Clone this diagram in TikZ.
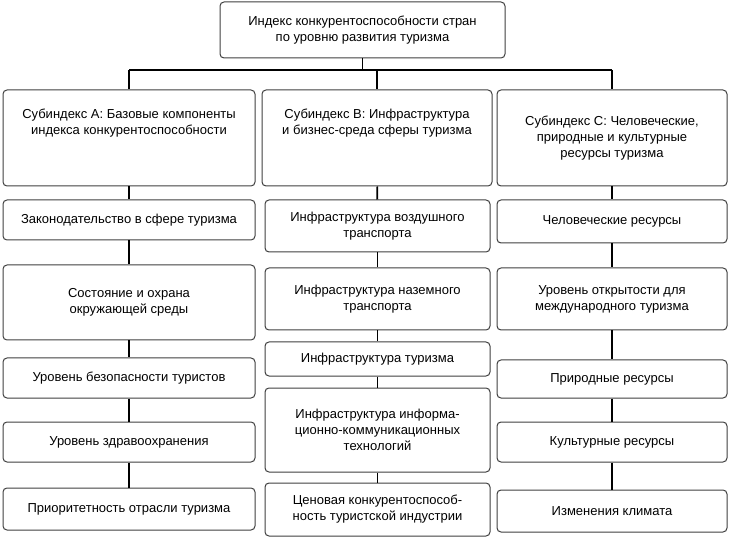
\documentclass[tikz,border=0pt]{standalone}
\usepackage{fontspec}
\setmainfont{Liberation Sans}
\begin{document}
\begin{tikzpicture}[x=1pt,y=-1pt,
  bx/.style={draw=black!75,line width=1pt,rounded corners=4pt,fill=white,align=center,font=\fontsize{13}{16}\selectfont,inner sep=1pt},
  ln/.style={line width=1.8pt,black}]
\useasboundingbox (0,0) rectangle (729,540);
\newcommand{\bxx}[6]{\node[bx,minimum width=#3-#2,minimum height=#5-#4] (#1) at ({(#2+#3)/2},{(#4+#5)/2}) {#6};}
\bxx{top}{220}{505}{2}{58}{Индекс конкурентоспособности стран\\по уровню развития туризма}
\bxx{a0}{3}{255}{90}{186}{Субиндекс A: Базовые компоненты\\индекса конкурентоспособности\\[16pt]}
\bxx{b0}{262}{492}{90}{186}{Субиндекс B: Инфраструктура\\и бизнес-среда сферы туризма\\[16pt]}
\bxx{c0}{497}{727}{90}{186}{Субиндекс C: Человеческие,\\природные и культурные\\ресурсы туризма}
\bxx{a1}{3}{255}{200}{240}{Законодательство в сфере туризма}
\bxx{a2}{3}{255}{265}{340}{Состояние и охрана\\окружающей среды}
\bxx{a3}{3}{255}{358}{398}{Уровень безопасности туристов}
\bxx{a4}{3}{255}{422}{462}{Уровень здравоохранения}
\bxx{a5}{3}{255}{488}{530}{Приоритетность отрасли туризма}
\bxx{b1}{265}{490}{200}{252}{Инфраструктура воздушного\\транспорта}
\bxx{b2}{265}{490}{268}{330}{Инфраструктура наземного\\транспорта}
\bxx{b3}{265}{490}{342}{376}{Инфраструктура туризма}
\bxx{b4}{265}{490}{388}{472}{Инфраструктура информа-\\ционно-коммуникационных\\технологий}
\bxx{b5}{265}{490}{483}{536}{Ценовая конкурентоспособ-\\ность туристской индустрии}
\bxx{c1}{497}{727}{200}{243}{Человеческие ресурсы}
\bxx{c2}{497}{727}{268}{330}{Уровень открытости для\\международного туризма}
\bxx{c3}{497}{727}{360}{398}{Природные ресурсы}
\bxx{c4}{497}{727}{422}{462}{Культурные ресурсы}
\bxx{c5}{497}{727}{490}{532}{Изменения климата}
\coordinate (bus) at (0,70);
\draw[ln] (top.south) -- (top.south |- bus);
\draw[ln] (a0.north |- bus) -- (c0.north |- bus);
\draw[ln] (a0.north |- bus) -- (a0.north);
\draw[ln] (b0.north |- bus) -- (b0.north);
\draw[ln] (c0.north |- bus) -- (c0.north);
\foreach \c in {a,b,c}{
  \draw[ln] (\c0) -- (\c1); \draw[ln] (\c1) -- (\c2); \draw[ln] (\c2) -- (\c3);
  \draw[ln] (\c3) -- (\c4); \draw[ln] (\c4) -- (\c5);}
\end{tikzpicture}
\end{document}
